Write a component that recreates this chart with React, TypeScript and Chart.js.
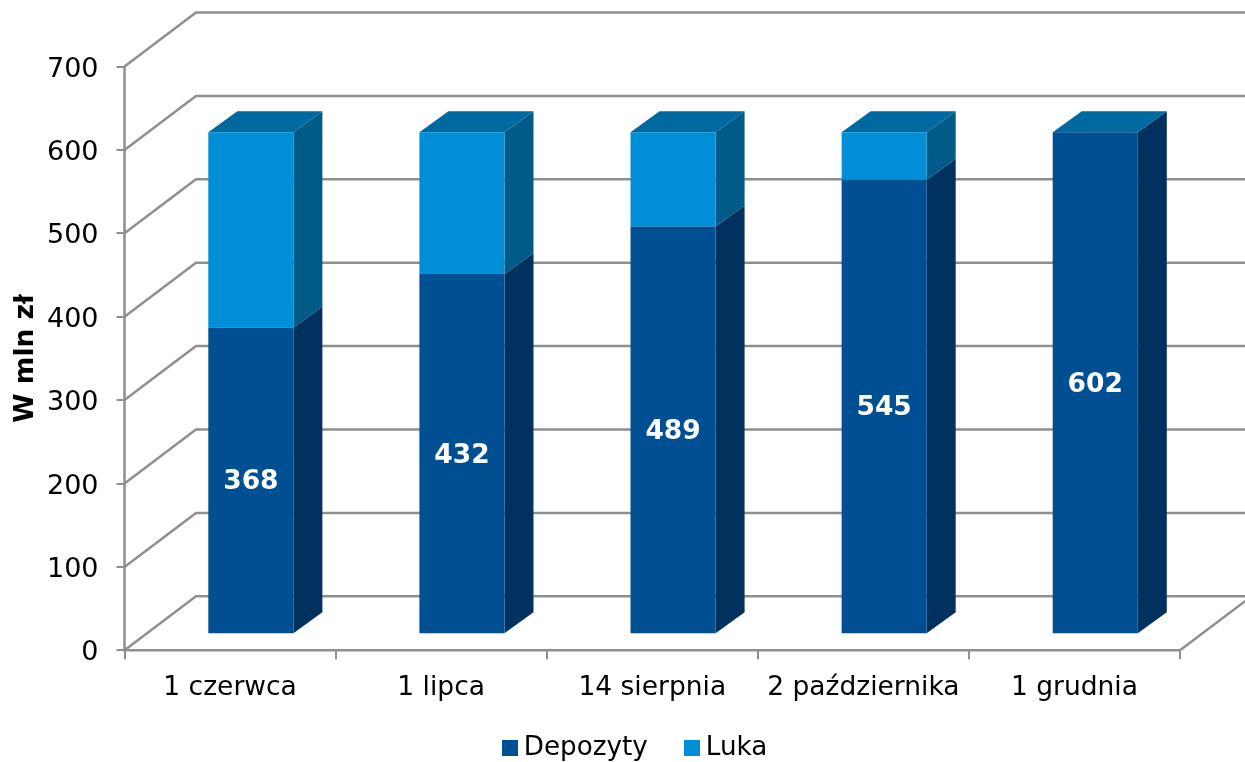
import React, { useEffect, useRef } from "react";
import { Chart, registerables } from "chart.js";

Chart.register(...registerables);

const categories = ["1 czerwca", "1 lipca", "14 sierpnia", "2 października", "1 grudnia"];
const depozyty = [368, 432, 489, 545, 602];
const luka = [234, 170, 113, 57, 0];
const depozytyLabels = ["368", "432", "489", "545", "602"];

const FONT = "'DejaVu Sans'";
const GRID = "#8f8f8f";
const WALL_DX = 71.5;
const WALL_DY = 54;
const BAR_DX = 20.8;
const BAR_DY = 16;
const SIDE_DX = 29;
const SIDE_DY = 21;
const TOP_COLOR = "#00699f";
const FRONT = ["#004f93", "#008ed6"];
const SIDE = ["#00315f", "#005b88"];

function swatch(color: string) {
  const c = document.createElement("canvas");
  c.width = 16;
  c.height = 16;
  const x = c.getContext("2d") as CanvasRenderingContext2D;
  x.fillStyle = color;
  x.fillRect(0, 0, 16, 16);
  return c;
}

const frame3d = {
  id: "frame3d",
  beforeDatasetsDraw(chart: any) {
    const { ctx, scales, chartArea } = chart;
    const y = scales.y;
    const left = chartArea.left;
    const right = chartArea.right;
    ctx.save();
    ctx.strokeStyle = GRID;
    ctx.lineWidth = 2.5;
    y.ticks.forEach((t: any) => {
      const py = y.getPixelForValue(t.value);
      ctx.beginPath();
      ctx.moveTo(left, py);
      ctx.lineTo(left + WALL_DX, py - WALL_DY);
      ctx.lineTo(right + WALL_DX, py - WALL_DY);
      ctx.stroke();
    });
    ctx.beginPath();
    ctx.moveTo(left, y.getPixelForValue(700));
    ctx.lineTo(left, chartArea.bottom);
    ctx.lineTo(right, chartArea.bottom);
    ctx.lineTo(right + WALL_DX, chartArea.bottom - WALL_DY);
    ctx.stroke();
    ctx.restore();

    ctx.save();
    ctx.translate(BAR_DX, -BAR_DY);
    const poly = (pts: number[][], color: string) => {
      ctx.fillStyle = color;
      ctx.beginPath();
      pts.forEach((p, i) => (i ? ctx.lineTo(p[0], p[1]) : ctx.moveTo(p[0], p[1])));
      ctx.closePath();
      ctx.fill();
    };
    categories.forEach((_, i) => {
      let topY = Infinity;
      let barL = 0;
      let barR = 0;
      chart.data.datasets.forEach((ds: any, d: number) => {
        const bar = chart.getDatasetMeta(d).data[i];
        if (!ds.data[i]) return;
        const r = bar.x + bar.width / 2;
        barL = bar.x - bar.width / 2;
        barR = r;
        topY = Math.min(topY, bar.y);
        poly(
          [
            [r, bar.base],
            [r, bar.y],
            [r + SIDE_DX, bar.y - SIDE_DY],
            [r + SIDE_DX, bar.base - SIDE_DY],
          ],
          SIDE[d]
        );
      });
      poly(
        [
          [barL, topY],
          [barR, topY],
          [barR + SIDE_DX, topY - SIDE_DY],
          [barL + SIDE_DX, topY - SIDE_DY],
        ],
        TOP_COLOR
      );
    });
  },
  afterDatasetsDraw(chart: any) {
    const { ctx } = chart;
    const meta = chart.getDatasetMeta(0);
    ctx.fillStyle = "#ffffff";
    ctx.font = `bold 26.5px ${FONT}`;
    ctx.textAlign = "center";
    ctx.textBaseline = "middle";
    meta.data.forEach((bar: any, i: number) => {
      ctx.fillText(depozytyLabels[i], bar.x, (bar.y + bar.base) / 2 + 2);
    });
    ctx.restore();
  },
  afterLayout(chart: any) {
    const lg = chart.legend;
    lg.left += 48;
    lg.right += 48;
    lg.top += 9;
    lg.bottom += 9;
    chart.scales.x.bottom = 720;
  },
};

export default function App() {
  const ref = useRef<HTMLCanvasElement>(null);
  useEffect(() => {
    document.body.style.margin = "0";
    document.body.style.background = "#ffffff";
    const swatches = FRONT.map(swatch);
    const chart = new Chart(ref.current as HTMLCanvasElement, {
      type: "bar",
      data: {
        labels: categories,
        datasets: [
          { label: "Depozyty", data: depozyty, backgroundColor: FRONT[0], clip: false } as any,
          { label: "Luka", data: luka, backgroundColor: FRONT[1], clip: false } as any,
        ],
      },
      options: {
        responsive: false,
        animation: false,
        layout: { padding: { top: 66.5, right: 65, left: 0, bottom: 0 } },
        datasets: { bar: { barPercentage: 0.403, categoryPercentage: 1 } },
        scales: {
          x: {
            stacked: true,
            afterFit(s: any) {
              s.height = 32.5;
            },
            grid: { drawOnChartArea: false, offset: true, color: GRID, lineWidth: 2, tickLength: 9, tickColor: GRID },
            border: { display: false },
            ticks: { color: "#000", font: { family: FONT, size: 26.5 }, padding: 13, maxRotation: 0, autoSkip: false },
          },
          y: {
            stacked: true,
            min: 0,
            max: 700,
            afterFit(s: any) {
              s.width = 124.5;
            },
            grid: { drawOnChartArea: false, color: GRID, lineWidth: 2, tickLength: 8, tickColor: GRID },
            border: { display: false },
            ticks: { stepSize: 100, color: "#000", font: { family: FONT, size: 27 }, padding: 18, labelOffset: 3 },
            title: {
              display: true,
              text: "W mln zł",
              color: "#000",
              font: { family: FONT, size: 26.5, weight: "bold" },
              padding: { top: 10, bottom: 0 },
            },
          },
        },
        plugins: {
          legend: {
            position: "bottom",
            labels: {
              color: "#000",
              font: { family: FONT, size: 26.2 },
              usePointStyle: true,
              pointStyleWidth: 2,
              boxHeight: 16,
              padding: 43,
              generateLabels(c: any) {
                const items = (Chart.defaults.plugins.legend.labels as any).generateLabels(c);
                items.forEach((it: any, i: number) => (it.pointStyle = swatches[i]));
                return items;
              },
            },
          },
          tooltip: { enabled: false },
        },
      } as any,
      plugins: [frame3d],
    });
    return () => chart.destroy();
  }, []);
  return <canvas ref={ref} width={1245} height={762} style={{ display: "block" }} />;
}
